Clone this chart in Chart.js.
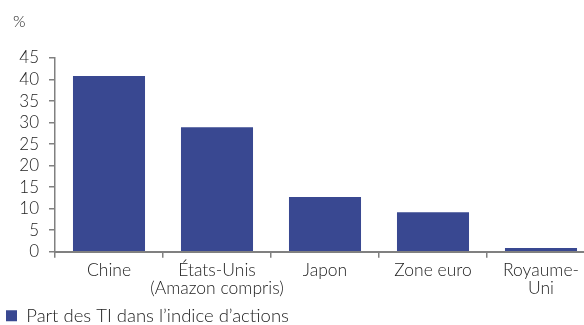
<!DOCTYPE html>
<html><head><meta charset="utf-8">
<script src="https://cdn.jsdelivr.net/npm/chart.js@4"></script>
<style>html,body{margin:0;padding:0;background:#fff;overflow:hidden}#wrap{width:584px;height:325px;position:relative;overflow:hidden}</style>
</head><body><div id="wrap"><canvas id="c" width="600" height="325"></canvas></div>
<script>
const categories = [["Chine"], ["États-Unis", "(Amazon compris)"], ["Japon"], ["Zone euro"], ["Royaume-", "Uni"]];
const values = [40.8, 28.9, 12.7, 9.2, 0.9];
const seriesName = "Part des TI dans l’indice d’actions";
const yTicks = [0, 5, 10, 15, 20, 25, 30, 35, 40, 45];
const unitLabel = "%";

const FONT = "Lato";
const unitPlugin = {
  id: 'unit',
  afterDraw(chart) {
    const ctx = chart.ctx;
    ctx.save();
    ctx.font = "300 16px " + FONT;
    ctx.fillStyle = "#222";
    ctx.textBaseline = "middle";
    ctx.fillText(unitLabel, 13, 22);
    ctx.restore();
  }
};
new Chart(document.getElementById('c'), {
  type: 'bar',
  data: { labels: categories, datasets: [{ label: seriesName, data: values, backgroundColor: '#394891', barPercentage: 0.667, categoryPercentage: 1 }] },
  options: {
    responsive: false, animation: false,
    layout: { padding: { top: 58, right: 5, left: 0, bottom: -10 } },
    plugins: {
      legend: { position: 'bottom', align: 'start',
        labels: { boxWidth: 11, boxHeight: 11, padding: 6, color: '#222', font: { family: FONT, size: 18.5, weight: 300 } } },
      tooltip: { enabled: false }
    },
    scales: {
      x: {
        grid: { display: true, drawOnChartArea: false, offset: true, color: '#808080', tickLength: 6, lineWidth: 1.5 },
        border: { color: '#808080', width: 2 },
        ticks: { color: '#222', font: { family: FONT, size: 17.5, weight: 300, lineHeight: 1.05 }, padding: 3, maxRotation: 0, autoSkip: false }
      },
      y: {
        min: 0, max: 45,
        afterBuildTicks(s) { s.ticks = yTicks.map(v => ({ value: v })); },
        afterFit(s) { s.width = 55; },
        grid: { display: true, drawOnChartArea: false, color: '#808080', tickLength: 6, lineWidth: 1.5 },
        border: { color: '#808080', width: 1.5 },
        ticks: { color: '#222', font: { family: FONT, size: 17, weight: 300 }, padding: 10, autoSkip: false }
      }
    }
  },
  plugins: [unitPlugin]
});
</script></body></html>
